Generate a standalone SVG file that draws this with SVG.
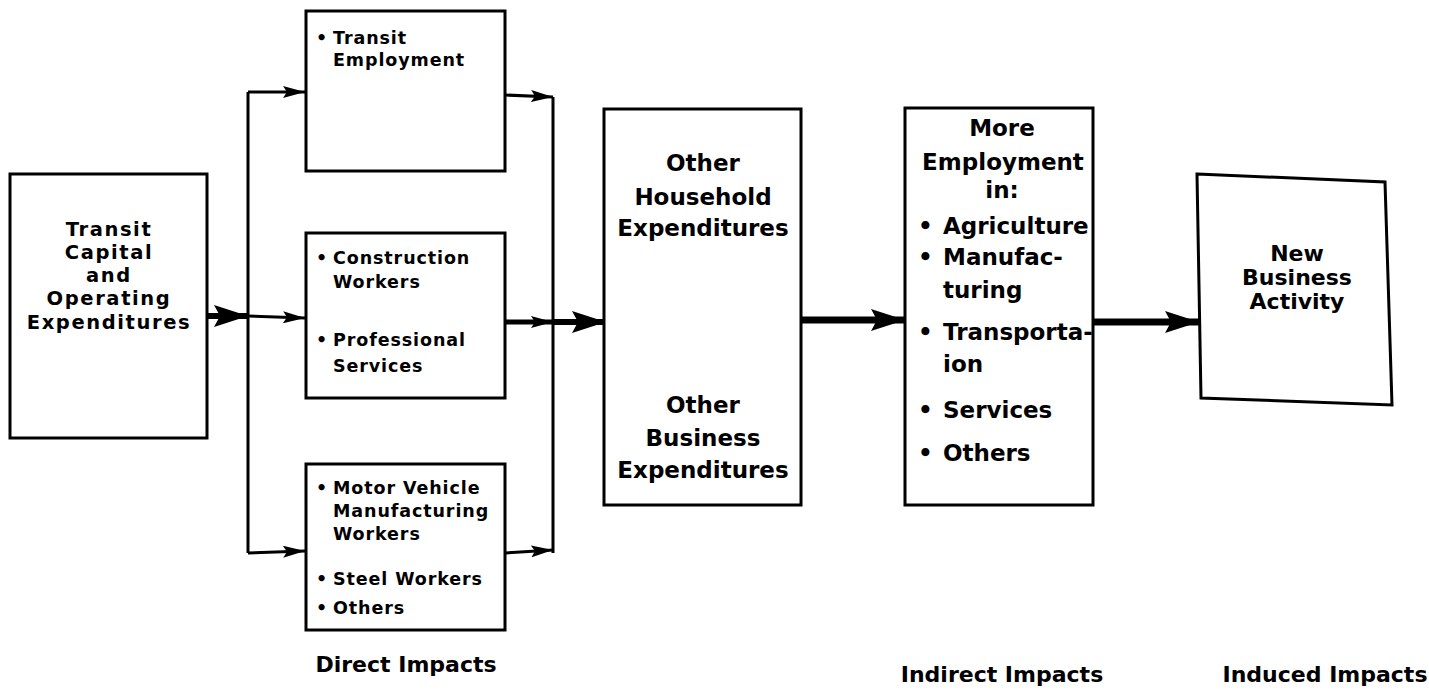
<svg xmlns="http://www.w3.org/2000/svg" width="1429" height="691" viewBox="0 0 1429 691">
<style>
.box{fill:#fff;stroke:#000;stroke-width:3}
.t{font-family:"DejaVu Sans","Liberation Sans",sans-serif;font-weight:bold;fill:#000}
.c{text-anchor:middle}
.s{font-size:17.5px;letter-spacing:0.9px}
.k{font-size:19.5px;letter-spacing:1.6px}
.m{font-size:23px}
.i{font-size:23px}
.l{font-size:22px}
.ln{fill:none;stroke:#000;stroke-width:3}
</style>
<defs>
<marker id="sm" markerUnits="userSpaceOnUse" markerWidth="24" markerHeight="12" refX="22" refY="6" orient="auto"><path d="M0,0 L22,6 L0,12 L4,6 z" fill="#000"/></marker>
<marker id="lg" markerUnits="userSpaceOnUse" markerWidth="36" markerHeight="22" refX="34" refY="11" orient="auto"><path d="M0,0 L34,11 L0,22 L6,11 z" fill="#000"/></marker>
</defs>
<rect width="1429" height="691" fill="#fff"/>
<g id="connectors">
<line class="ln" x1="248" y1="92" x2="248" y2="553"/>
<line class="ln" x1="553" y1="97" x2="553" y2="553"/>
<line x1="207" y1="316" x2="248" y2="316" stroke="#000" stroke-width="6" marker-end="url(#lg)"/>
<line class="ln" x1="248" y1="316" x2="305" y2="318" marker-end="url(#sm)"/>
<line class="ln" x1="248" y1="92" x2="305" y2="92" marker-end="url(#sm)"/>
<line class="ln" x1="248" y1="553" x2="305" y2="551" marker-end="url(#sm)"/>
<line class="ln" x1="505" y1="95" x2="553" y2="97" marker-end="url(#sm)"/>
<line x1="505" y1="322" x2="553" y2="322" stroke="#000" stroke-width="5" marker-end="url(#sm)"/>
<line class="ln" x1="505" y1="553" x2="553" y2="550" marker-end="url(#sm)"/>
<line x1="553" y1="322" x2="606" y2="322" stroke="#000" stroke-width="6" marker-end="url(#lg)"/>
<line x1="801" y1="320" x2="905" y2="320" stroke="#000" stroke-width="7" marker-end="url(#lg)"/>
<line x1="1093" y1="322" x2="1199" y2="322" stroke="#000" stroke-width="7" marker-end="url(#lg)"/>
</g>
<g id="node-transit">
<rect class="box" x="10" y="174" width="197" height="264"/>
<text class="t c k" x="109" y="236">Transit</text>
<text class="t c k" x="109" y="259">Capital</text>
<text class="t c k" x="109" y="282">and</text>
<text class="t c k" x="109" y="305">Operating</text>
<text class="t c k" x="109" y="329">Expenditures</text>
</g>
<g id="node-transit-employment">
<rect class="box" x="306" y="11" width="199" height="160"/>
<text class="t s" x="316" y="44">•</text>
<text class="t s" x="333" y="44">Transit</text>
<text class="t s" x="333" y="66">Employment</text>
</g>
<g id="node-construction">
<rect class="box" x="306" y="233" width="199" height="165"/>
<text class="t s" x="316" y="264">•</text>
<text class="t s" x="333" y="264">Construction</text>
<text class="t s" x="333" y="288">Workers</text>
<text class="t s" x="316" y="346">•</text>
<text class="t s" x="333" y="346">Professional</text>
<text class="t s" x="333" y="372">Services</text>
</g>
<g id="node-motor">
<rect class="box" x="306" y="464" width="199" height="166"/>
<text class="t s" x="316" y="494">•</text>
<text class="t s" x="333" y="494">Motor Vehicle</text>
<text class="t s" x="333" y="517">Manufacturing</text>
<text class="t s" x="333" y="540">Workers</text>
<text class="t s" x="316" y="585">•</text>
<text class="t s" x="333" y="585">Steel Workers</text>
<text class="t s" x="316" y="614">•</text>
<text class="t s" x="333" y="614">Others</text>
</g>
<g id="node-expenditures">
<rect class="box" x="604" y="109" width="197" height="396"/>
<text class="t c m" x="703" y="171">Other</text>
<text class="t c m" x="703" y="205">Household</text>
<text class="t c m" x="703" y="236">Expenditures</text>
<text class="t c m" x="703" y="413">Other</text>
<text class="t c m" x="703" y="446">Business</text>
<text class="t c m" x="703" y="478">Expenditures</text>
</g>
<g id="node-employment">
<rect class="box" x="905" y="108" width="188" height="397"/>
<text class="t c i" x="1002" y="136">More</text>
<text class="t c i" x="1003" y="170">Employment</text>
<text class="t c i" x="1002" y="198">in:</text>
<text class="t i" x="918" y="234">•</text>
<text class="t i" x="943" y="234">Agriculture</text>
<text class="t i" x="918" y="265">•</text>
<text class="t i" x="943" y="265">Manufac-</text>
<text class="t i" x="943" y="298">turing</text>
<text class="t i" x="918" y="340">•</text>
<text class="t i" x="943" y="340">Transporta-</text>
<text class="t i" x="943" y="372">ion</text>
<text class="t i" x="918" y="418">•</text>
<text class="t i" x="943" y="418">Services</text>
<text class="t i" x="918" y="461">•</text>
<text class="t i" x="943" y="461">Others</text>
</g>
<g id="node-business">
<polygon class="box" points="1197,174 1385,182 1392,405 1201,398"/>
<text class="t c l" x="1297" y="261">New</text>
<text class="t c l" x="1297" y="285">Business</text>
<text class="t c l" x="1297" y="309">Activity</text>
</g>
<g id="labels">
<text class="t c l" x="406" y="672">Direct Impacts</text>
<text class="t c l" x="1002" y="682">Indirect Impacts</text>
<text class="t c l" x="1325" y="682">Induced Impacts</text>
</g>
</svg>
